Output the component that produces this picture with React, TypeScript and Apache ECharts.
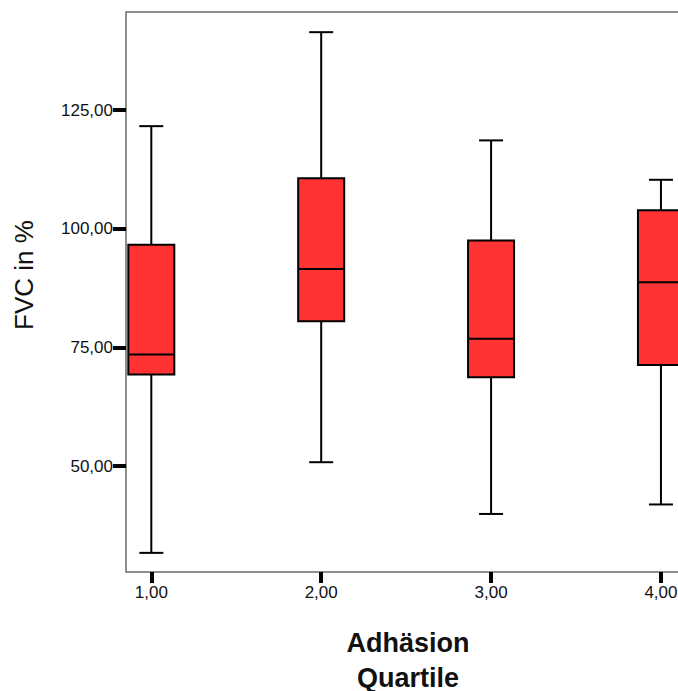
import React, { useEffect, useRef } from 'react';
import * as echarts from 'echarts';

const categories = [1, 2, 3, 4];
const whiskerLow = [31.7, 50.8, 39.9, 41.9];
const q1 = [69.3, 80.5, 68.7, 71.3];
const median = [73.5, 91.5, 76.8, 88.7];
const q3 = [96.6, 110.6, 97.5, 103.9];
const whiskerHigh = [121.6, 141.4, 118.6, 110.3];
const yTicks = [50, 75, 100, 125];
const xTicks = [1, 2, 3, 4];
const yName = 'FVC in %';
const xName = 'Adhäsion\nQuartile';

const fmt = (v: number) => v.toFixed(2).replace('.', ',');

export default function App() {
  const ref = useRef<HTMLDivElement>(null);
  useEffect(() => {
    if (!ref.current) return;
    const chart = echarts.init(ref.current, undefined, { renderer: 'svg' });
    const data = categories.map((c, i) => [c, whiskerLow[i], q1[i], median[i], q3[i], whiskerHigh[i]]);
    const black = '#000';
    const font = '"Liberation Sans", Arial, sans-serif';
    chart.setOption({
      animation: false,
      backgroundColor: '#fff',
      grid: {
        left: 126,
        top: 12,
        width: 564,
        height: 560,
        show: true,
        borderColor: '#6a6a6a',
        borderWidth: 1.5,
        backgroundColor: 'transparent',
        outerBoundsMode: 'none',
        containLabel: false,
      },
      xAxis: {
        type: 'value',
        min: 0.851,
        max: 4.171,
        splitLine: { show: false },
        axisLine: { show: false },
        axisTick: {
          show: true,
          customValues: xTicks,
          length: 11,
          lineStyle: { color: black, width: 4 },
        },
        axisLabel: {
          customValues: xTicks,
          formatter: (v: number) => fmt(v),
          color: '#111',
          fontSize: 17,
          fontFamily: font,
          margin: 12,
        },
        name: xName,
        nameLocation: 'middle',
        nameGap: 53,
        nameTextStyle: {
          fontSize: 27,
          fontWeight: 'bold',
          fontFamily: font,
          color: '#111',
          lineHeight: 35,
        },
      },
      yAxis: {
        type: 'value',
        min: 27.67,
        max: 145.65,
        splitLine: { show: false },
        axisLine: { show: false },
        axisTick: {
          show: true,
          customValues: yTicks,
          length: 13,
          lineStyle: { color: black, width: 4 },
        },
        axisLabel: {
          customValues: yTicks,
          formatter: (v: number) => fmt(v),
          color: '#111',
          fontSize: 17,
          fontFamily: font,
          margin: 13,
        },
      },
      graphic: [
        {
          type: 'text',
          x: 24,
          y: 275,
          rotation: Math.PI / 2,
          style: {
            text: yName,
            fontSize: 26,
            fontFamily: font,
            fill: '#111',
            align: 'center',
            verticalAlign: 'middle',
          },
        },
      ],
      series: [
        {
          type: 'custom',
          data,
          encode: { x: 0, y: [1, 2, 3, 4, 5] },
          clip: false,
          renderItem: (params: any, api: any) => {
            const x = api.value(0);
            const lo = api.coord([x, api.value(1)]);
            const b = api.coord([x, api.value(2)]);
            const m = api.coord([x, api.value(3)]);
            const t = api.coord([x, api.value(4)]);
            const hi = api.coord([x, api.value(5)]);
            const cx = lo[0];
            const halfBox = 23;
            const halfCap = 12;
            const ls = { stroke: black, lineWidth: 2 };
            return {
              type: 'group',
              children: [
                { type: 'line', shape: { x1: cx, y1: hi[1], x2: cx, y2: t[1] }, style: ls },
                { type: 'line', shape: { x1: cx, y1: b[1], x2: cx, y2: lo[1] }, style: ls },
                { type: 'line', shape: { x1: cx - halfCap, y1: hi[1], x2: cx + halfCap, y2: hi[1] }, style: ls },
                { type: 'line', shape: { x1: cx - halfCap, y1: lo[1], x2: cx + halfCap, y2: lo[1] }, style: ls },
                {
                  type: 'rect',
                  shape: { x: cx - halfBox, y: t[1], width: halfBox * 2, height: b[1] - t[1] },
                  style: { fill: '#ff3333', stroke: black, lineWidth: 2 },
                },
                { type: 'line', shape: { x1: cx - halfBox, y1: m[1], x2: cx + halfBox, y2: m[1] }, style: ls },
              ],
            };
          },
        },
      ],
    });
    return () => chart.dispose();
  }, []);
  return (
    <div style={{ position: 'absolute', left: 0, top: 0, width: 678, height: 691, overflow: 'hidden', background: '#fff' }}>
      <div ref={ref} style={{ width: 720, height: 691 }} />
    </div>
  );
}
